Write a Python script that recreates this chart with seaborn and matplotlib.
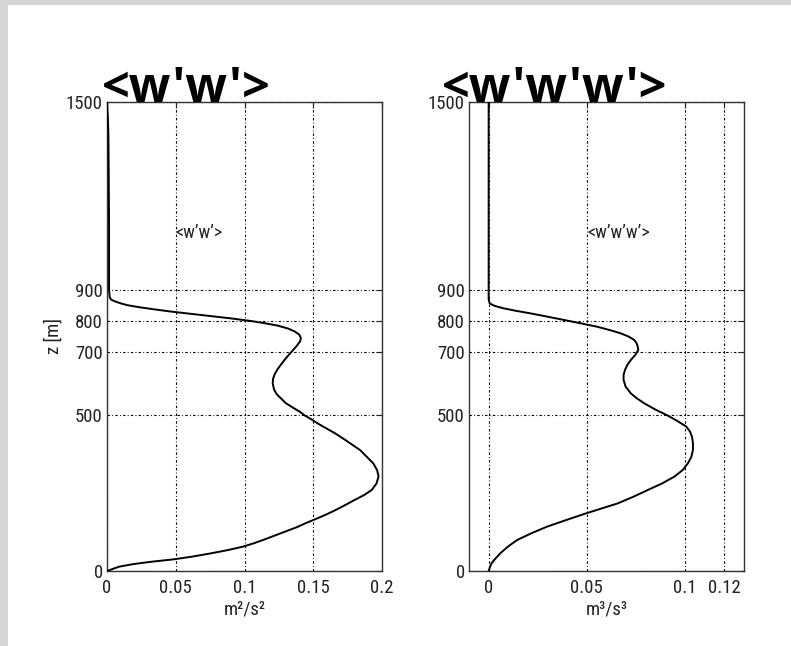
import numpy as np
import pandas as pd
import matplotlib
matplotlib.use("Agg")
import matplotlib.pyplot as plt
from matplotlib import font_manager
from matplotlib.patches import Rectangle
import seaborn as sns

# Vertical profiles of vertical-velocity moments (height in metres)
z_ww = [0, 3, 8, 14, 22, 30, 37, 46, 56, 67, 78, 89, 100, 110, 120, 130, 140,
        152, 163, 176, 190, 208, 227, 243, 259, 280, 302, 322, 344, 365, 387,
        405, 420, 440, 455, 470, 484, 497, 510, 523, 537, 550, 565, 580, 601,
        615, 630, 645, 660, 680, 700, 720, 735, 745, 755, 765, 775, 785, 793,
        800, 808, 815, 823, 830, 837, 844, 850, 856, 862, 868, 875, 900, 1100,
        1300, 1400, 1450, 1500]
ww = [0.0, 0.002, 0.005, 0.009, 0.019, 0.033, 0.048, 0.062, 0.075, 0.088,
      0.099, 0.107, 0.114, 0.120, 0.126, 0.132, 0.138, 0.144, 0.150, 0.157,
      0.164, 0.172, 0.180, 0.187, 0.1925, 0.196, 0.1975, 0.1965, 0.1937,
      0.189, 0.184, 0.178, 0.173, 0.166, 0.160, 0.154, 0.149, 0.144, 0.140,
      0.135, 0.130, 0.127, 0.1235, 0.1215, 0.1205, 0.1208, 0.122, 0.124,
      0.1265, 0.130, 0.134, 0.138, 0.1405, 0.141, 0.140, 0.137, 0.132, 0.124,
      0.114, 0.104, 0.090, 0.076, 0.060, 0.046, 0.034, 0.023, 0.015, 0.010,
      0.006, 0.003, 0.002, 0.0015, 0.0015, 0.0012, 0.001, 0.0006, 0.0]

z_www = [0, 5, 12, 25, 40, 57, 78, 99, 120, 142, 163, 184, 200, 216, 237, 259,
         280, 302, 323, 344, 365, 387, 410, 430, 446, 462, 480, 497, 516, 536,
         552, 568, 590, 611, 627, 643, 660, 675, 690, 707, 720, 730, 739, 750,
         760, 770, 781, 792, 803, 814, 824, 832, 840, 848, 856, 870, 900, 1200,
         1500]
www = [0.0, 0.0003, 0.0006, 0.0015, 0.0035, 0.006, 0.0098, 0.0145, 0.0215,
       0.0298, 0.0395, 0.0494, 0.0575, 0.0656, 0.0735, 0.081, 0.0883, 0.0946,
       0.0988, 0.1014, 0.1032, 0.104, 0.104, 0.1035, 0.1025, 0.1006, 0.096,
       0.0912, 0.085, 0.0793, 0.0755, 0.0724, 0.0697, 0.0687, 0.0687, 0.0694,
       0.0707, 0.0724, 0.0745, 0.0762, 0.0758, 0.0752, 0.0741, 0.0712, 0.0673,
       0.0620, 0.0554, 0.0470, 0.0383, 0.0295, 0.0213, 0.0140, 0.0077, 0.0030,
       0.0005, 0.0, 0.0, 0.0, 0.0]

z_ticks = [0, 500, 700, 800, 900, 1500]
ww_ticks = [0, 0.05, 0.1, 0.15, 0.2]
ww_ticklabels = ["0", "0.05", "0.1", "0.15", "0.2"]
www_ticks = [0, 0.05, 0.1, 0.12]
www_ticklabels = ["0", "0.05", "0.1", "0.12"]

titles = ["<w'w'>", "<w'w'w'>"]
inner_labels = ["<w\u2019w\u2019>", "<w\u2019w\u2019w\u2019>"]
x_units = ["m\u00b2/s\u00b2", "m\u00b3/s\u00b3"]
y_label = "z [m]"

sns.set_theme(style="white")

installed = {f.name for f in font_manager.fontManager.ttflist}
narrow = next((f for f in ["Liberation Sans Narrow", "Roboto Condensed",
                           "DejaVu Sans Condensed", "Liberation Sans"]
               if f in installed), "DejaVu Sans")
title_font = "Open Sans" if "Open Sans" in installed else "DejaVu Sans"
plt.rcParams["font.family"] = [narrow, "DejaVu Sans"]

W, H = 791, 646
fig = plt.figure(figsize=(W / 100, H / 100), dpi=100)
fig.patch.set_facecolor("#d6d6d6")
fig.patches.append(Rectangle((8 / W, 0), 1, (H - 5) / H, transform=fig.transFigure,
                             facecolor="white", edgecolor="none", zorder=-10))

ax_l = fig.add_axes([107 / W, (H - 571) / H, 275 / W, 469 / H])
ax_r = fig.add_axes([469 / W, (H - 571) / H, 275 / W, 469 / H])

df_l = pd.DataFrame({"x": ww, "z": z_ww})
df_r = pd.DataFrame({"x": www, "z": z_www})

# dash-dot grid, as in classic plotting packages
grid_style = dict(color="black", linewidth=0.8, linestyle=(0, (2.2, 2.0, 0.8, 2.0)))
tick_color = "#222222"

panels = [
    (ax_l, df_l, (0, 0.2), ww_ticks, ww_ticklabels, x_units[0], inner_labels[0]),
    (ax_r, df_r, (-0.01, 0.13), www_ticks, www_ticklabels, x_units[1], inner_labels[1]),
]
for ax, df, xlim, xt, xtl, xu, lab in panels:
    ax.set_facecolor("white")
    sns.lineplot(data=df, x="x", y="z", sort=False, estimator=None,
                 color="black", linewidth=1.4, ax=ax, zorder=3)
    ax.set_xlim(*xlim)
    ax.set_ylim(0, 1500)
    ax.set_xticks(xt)
    ax.set_xticklabels(xtl)
    ax.set_yticks(z_ticks)
    ax.set_yticklabels([str(t) for t in z_ticks])
    ax.grid(True, **grid_style)
    ax.set_axisbelow(True)
    for s in ax.spines.values():
        s.set_color("#333333")
        s.set_linewidth(1.0)
    ax.tick_params(direction="in", top=True, right=True, length=4, width=0.8,
                   colors=tick_color, labelsize=13.5, labelcolor=tick_color)
    ax.tick_params(axis="x", pad=6)
    ax.tick_params(axis="y", pad=3)
    ax.set_xlabel(xu, fontsize=13.5, color=tick_color, labelpad=2)
    ax.set_ylabel("")
    ax.text(0.05, 1082, lab, fontsize=13, color=tick_color, ha="left", va="center")

ax_l.set_ylabel(y_label, fontsize=13.5, color=tick_color, labelpad=2)

fig.text(102 / W, (H - 102) / H, titles[0], family=title_font, fontweight="bold",
         fontsize=35, color="black", ha="left", va="baseline")
fig.text(442 / W, (H - 102) / H, titles[1], family=title_font, fontweight="bold",
         fontsize=35, color="black", ha="left", va="baseline")

fig.savefig("out.png", dpi=100, facecolor=fig.get_facecolor())
